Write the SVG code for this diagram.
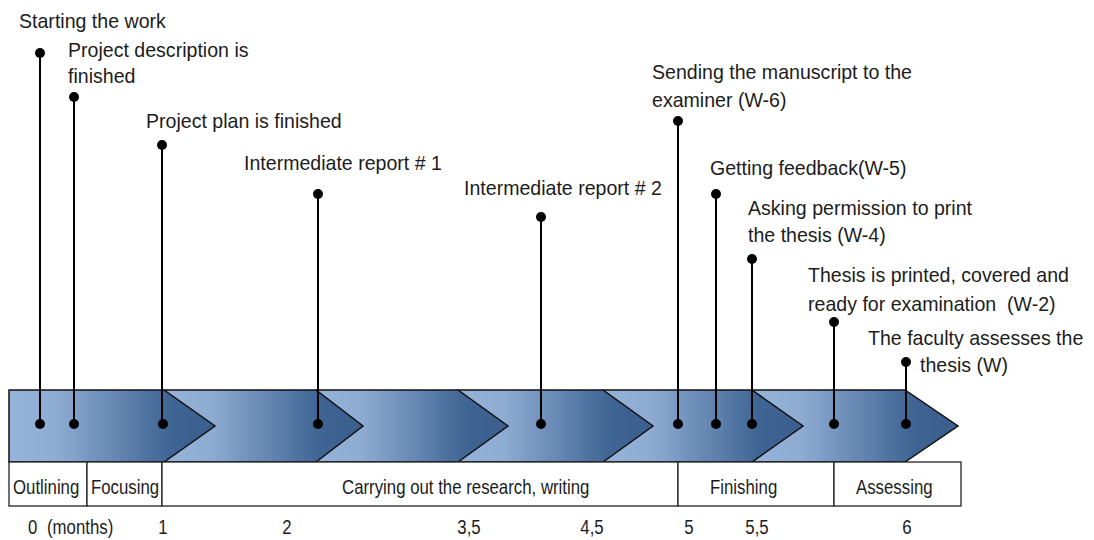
<svg xmlns="http://www.w3.org/2000/svg" width="1094" height="540" viewBox="0 0 1094 540">
<style>
text{font-family:"Liberation Sans","Arial",sans-serif;font-size:20.5px;fill:#1c1c1c}
.seg{fill:url(#g);stroke:#111;stroke-width:1.5;stroke-linejoin:miter}
.pin{stroke:#000;stroke-width:2;fill:none}
.dot{fill:#000}
.cell{fill:#fff;stroke:#222;stroke-width:1.3}
.m{text-anchor:middle}
</style>
<defs>
<linearGradient id="g" x1="0" y1="0" x2="1" y2="0">
<stop offset="0" stop-color="#96b3d9"/>
<stop offset="0.24" stop-color="#8eabd2"/>
<stop offset="0.78" stop-color="#3f6594"/>
<stop offset="1" stop-color="#3a5e8d"/>
</linearGradient>
</defs>
<g id="band">
<polygon class="seg" points="752,390 905,390 958,426 905,462 752,462"/>
<polygon class="seg" points="603,390 752,390 803,426 752,462 603,462"/>
<polygon class="seg" points="458,390 603,390 653,426 603,462 458,462"/>
<polygon class="seg" points="316,390 458,390 508,426 458,462 316,462"/>
<polygon class="seg" points="164,390 316,390 363,426 316,462 164,462"/>
<polygon class="seg" points="9,390 164,390 215,426 164,462 9,462"/>
</g>
<g id="phases">
<rect class="cell" x="9" y="462" width="78" height="44"/>
<rect class="cell" x="87" y="462" width="75" height="44"/>
<rect class="cell" x="162" y="462" width="516" height="44"/>
<rect class="cell" x="678" y="462" width="156" height="44"/>
<rect class="cell" x="834" y="462" width="127" height="44"/>
<text transform="matrix(.82 0 0 1 13 494)">Outlining</text>
<text transform="matrix(.82 0 0 1 91 494)">Focusing</text>
<text transform="matrix(.82 0 0 1 342 494)">Carrying out the research, writing</text>
<text transform="matrix(.82 0 0 1 710 494)">Finishing</text>
<text transform="matrix(.82 0 0 1 856 494)">Assessing</text>
</g>
<g id="axis">
<text transform="matrix(.82 0 0 1 28 534)">0</text>
<text transform="matrix(.82 0 0 1 47 534)">(months)</text>
<text class="m" transform="matrix(.82 0 0 1 163 534)">1</text>
<text class="m" transform="matrix(.82 0 0 1 287 534)">2</text>
<text class="m" transform="matrix(.82 0 0 1 469 534)">3,5</text>
<text class="m" transform="matrix(.82 0 0 1 592 534)">4,5</text>
<text class="m" transform="matrix(.82 0 0 1 689 534)">5</text>
<text class="m" transform="matrix(.82 0 0 1 757 534)">5,5</text>
<text class="m" transform="matrix(.82 0 0 1 907 534)">6</text>
</g>
<g id="connectors">
<line class="pin" x1="40" y1="53" x2="40" y2="424"/>
<line class="pin" x1="74" y1="97" x2="74" y2="424"/>
<line class="pin" x1="162" y1="145" x2="162" y2="424"/>
<line class="pin" x1="318" y1="194" x2="318" y2="424"/>
<line class="pin" x1="541" y1="217" x2="541" y2="424"/>
<line class="pin" x1="678" y1="121" x2="678" y2="424"/>
<line class="pin" x1="716" y1="194" x2="716" y2="424"/>
<line class="pin" x1="752" y1="259" x2="752" y2="424"/>
<line class="pin" x1="834" y1="322" x2="834" y2="424"/>
<line class="pin" x1="906" y1="362" x2="906" y2="424"/>
</g>
<g id="m1"><circle class="dot" cx="40" cy="53" r="5"/><circle class="dot" cx="40" cy="424" r="5"/><text transform="matrix(.955 0 0 1 19 28)">Starting the work</text></g>
<g id="m2"><circle class="dot" cx="74" cy="97" r="5"/><circle class="dot" cx="74" cy="424" r="5"/><text transform="matrix(.955 0 0 1 68 57)">Project description is</text><text transform="matrix(.955 0 0 1 68 83)">finished</text></g>
<g id="m3"><circle class="dot" cx="162" cy="145" r="5"/><circle class="dot" cx="163" cy="424" r="5"/><text transform="matrix(.955 0 0 1 146 128)">Project plan is finished</text></g>
<g id="m4"><circle class="dot" cx="318" cy="194" r="5"/><circle class="dot" cx="318" cy="424" r="5"/><text transform="matrix(.955 0 0 1 244 170)">Intermediate report # 1</text></g>
<g id="m5"><circle class="dot" cx="541" cy="217" r="5"/><circle class="dot" cx="541" cy="424" r="5"/><text transform="matrix(.955 0 0 1 464 195)">Intermediate report # 2</text></g>
<g id="m6"><circle class="dot" cx="678" cy="121" r="5"/><circle class="dot" cx="678" cy="424" r="5"/><text transform="matrix(.955 0 0 1 652 79)">Sending the manuscript to the</text><text transform="matrix(.955 0 0 1 652 107)">examiner (W-6)</text></g>
<g id="m7"><circle class="dot" cx="716" cy="194" r="5"/><circle class="dot" cx="716" cy="424" r="5"/><text transform="matrix(.955 0 0 1 710 175)">Getting feedback(W-5)</text></g>
<g id="m8"><circle class="dot" cx="752" cy="259" r="5"/><circle class="dot" cx="752" cy="424" r="5"/><text transform="matrix(.955 0 0 1 748 215)">Asking permission to print</text><text transform="matrix(.955 0 0 1 748 242)">the thesis (W-4)</text></g>
<g id="m9"><circle class="dot" cx="834" cy="322" r="5"/><circle class="dot" cx="834" cy="424" r="5"/><text transform="matrix(.955 0 0 1 808 282)">Thesis is printed, covered and</text><text transform="matrix(.955 0 0 1 808 311)">ready for examination&#160; (W-2)</text></g>
<g id="m10"><circle class="dot" cx="906" cy="362" r="5"/><circle class="dot" cx="906" cy="424" r="5"/><text transform="matrix(.955 0 0 1 868 345)">The faculty assesses the</text><text transform="matrix(.955 0 0 1 920 372)">thesis (W)</text></g>
</svg>
